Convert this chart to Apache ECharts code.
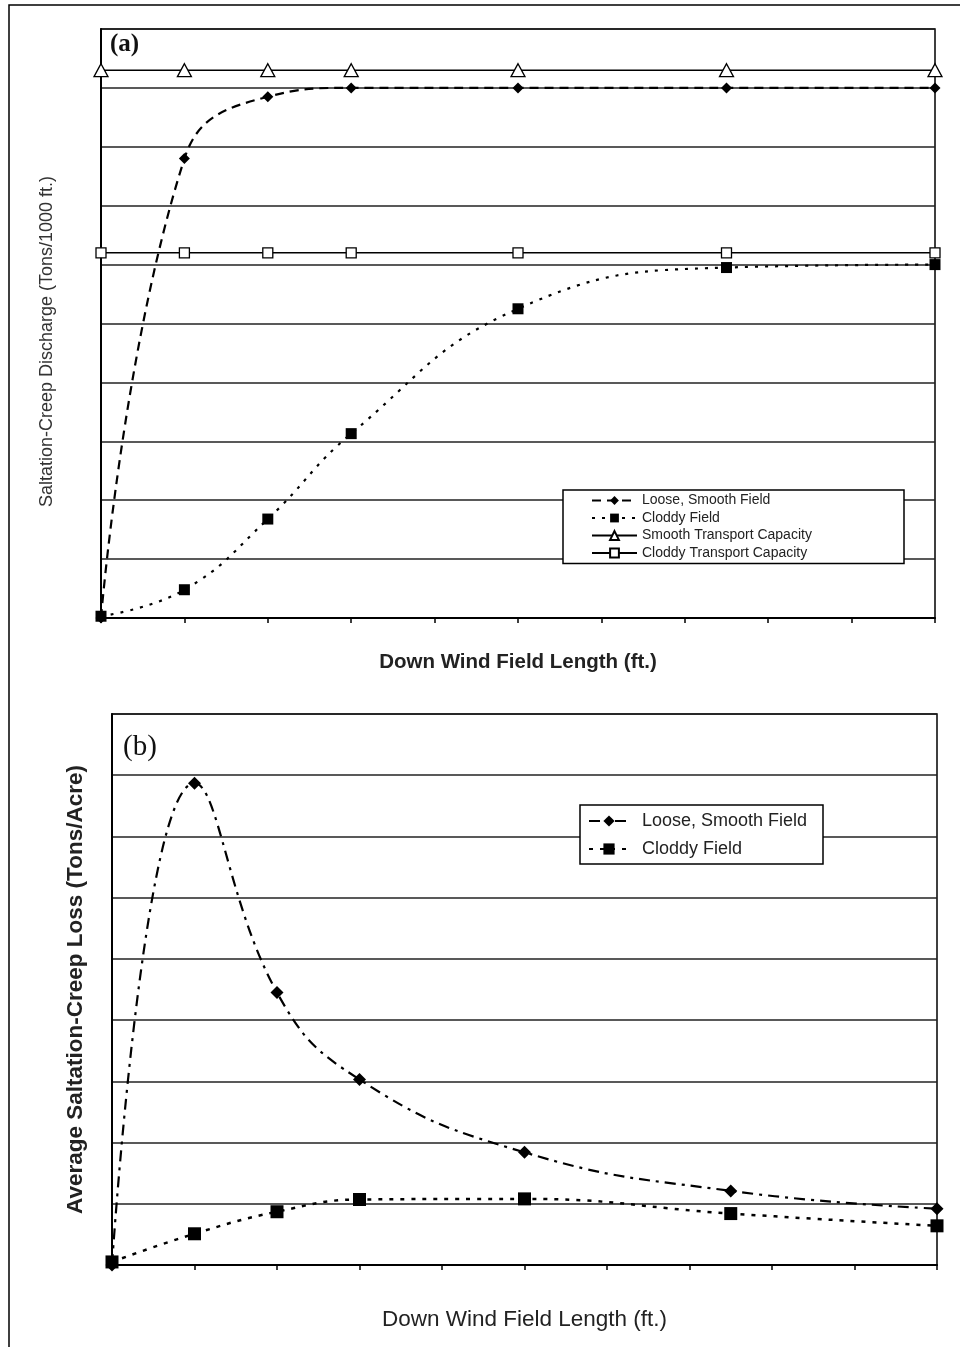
<!DOCTYPE html>
<html>
<head>
<meta charset="utf-8">
<title>Saltation-Creep Discharge and Loss</title>
<script src="https://cdn.jsdelivr.net/npm/echarts@6/dist/echarts.min.js"></script>
<style>
	html, body { margin: 0; padding: 0; background: #fff; }
	#mainCharts { width: 960px; height: 1347px; }
</style>
</head>
<body>
<div id="mainCharts"></div>
<script>
// down wind field length (ft.) - x positions of the measured points
var fieldLength = [0, 100, 200, 300, 500, 750, 1000];

// (a) saltation-creep discharge (Tons/1000 ft.)
var looseDischarge = [0, 7.8, 8.85, 9.0, 9.0, 9.0, 9.0];
var cloddyDischarge = [0.03, 0.48, 1.68, 3.13, 5.25, 5.95, 6.0];
var smoothCapacity = [9.3, 9.3, 9.3, 9.3, 9.3, 9.3, 9.3];
var cloddyCapacity = [6.2, 6.2, 6.2, 6.2, 6.2, 6.2, 6.2];

// (b) average saltation-creep loss (Tons/Acre)
var looseLoss = [0, 7.87, 4.45, 3.03, 1.84, 1.21, 0.92];
var cloddyLoss = [0.05, 0.51, 0.87, 1.07, 1.08, 0.84, 0.64];

var legendNamesA = ['Loose, Smooth Field', 'Cloddy Field', 'Smooth Transport Capacity', 'Cloddy Transport Capacity'];
var legendNamesB = ['Loose, Smooth Field ', 'Cloddy Field '];

var sansFont = 'Liberation Sans, Arial, sans-serif';
var serifFont = 'Liberation Serif, Times New Roman, serif';

//把x和y组合成点
function toPoints(values){
	var list = [];
	for(var i=0;i<fieldLength.length;i++){
		list.push([fieldLength[i], values[i]]);
	}
	return list;
}

//公共的坐标轴样式
function xAxisFor(gridIndex, gap, nameStyle){
	return {
		type: 'value',
		gridIndex: gridIndex,
		min: 0,
		max: 1000,
		interval: 100,
		name: 'Down Wind Field Length (ft.)',
		nameLocation: 'middle',
		nameGap: gap,
		nameTextStyle: nameStyle,
		axisLine: { show: true, lineStyle: { color: '#000', width: 2 } },
		axisTick: { show: true, inside: false, length: 5, lineStyle: { color: '#000', width: 1.5 } },
		axisLabel: { show: false },
		splitLine: { show: false }
	};
}

function yAxisFor(gridIndex, maxVal, name, gap, nameStyle){
	return {
		type: 'value',
		gridIndex: gridIndex,
		min: 0,
		max: maxVal,
		interval: 1,
		name: name,
		nameLocation: 'middle',
		nameGap: gap,
		nameTextStyle: nameStyle,
		axisLine: { show: true, lineStyle: { color: '#000', width: 2 } },
		axisTick: { show: false },
		axisLabel: { show: false },
		splitLine: {
			show: true,
			lineStyle: { color: '#222', width: 1.5, type: 'solid' }
		}
	};
}

var mainChart = echarts.init(document.getElementById('mainCharts'), null, { renderer: 'canvas' });

var option = {
	backgroundColor: '#fff',
	animation: false,
	title: [{
		text: '(a)',
		left: 110,
		top: 32,
		padding: 0,
		textStyle: { fontFamily: serifFont, fontSize: 25, fontWeight: 'bold', color: '#111' }
	}, {
		text: '(b)',
		left: 123,
		top: 733,
		padding: 0,
		textStyle: { fontFamily: serifFont, fontSize: 29, fontWeight: 'normal', color: '#111' }
	}],
	// 外框
	graphic: [{
		type: 'rect',
		shape: { x: 9, y: 5, width: 1000, height: 1400 },
		style: { fill: 'none', stroke: '#000', lineWidth: 1.5 },
		silent: true
	}],
	legend: [{
		data: legendNamesA,
		orient: 'vertical',
		left: 563,
		top: 490,
		padding: [3, 30, 3, 28],
		itemWidth: 45,
		itemHeight: 11,
		itemGap: 2.5,
		backgroundColor: '#fff',
		borderColor: '#000',
		borderWidth: 1.5,
		borderRadius: 0,
		textStyle: {
			fontFamily: sansFont,
			fontSize: 14,
			color: '#222',
			width: 232,
			lineHeight: 15
		}
	}, {
		data: legendNamesB,
		orient: 'vertical',
		left: 580,
		top: 805,
		padding: [6, 5, 5, 8],
		itemWidth: 40,
		itemHeight: 14,
		itemGap: 8,
		backgroundColor: '#fff',
		borderColor: '#000',
		borderWidth: 1.5,
		borderRadius: 0,
		textStyle: {
			fontFamily: sansFont,
			fontSize: 18,
			color: '#222',
			width: 176,
			lineHeight: 20,
			padding: [0, 0, 0, 8]
		}
	}],
	grid: [{
		left: 101, top: 29, width: 834, height: 589,
		show: true, borderColor: '#000', borderWidth: 1.5, backgroundColor: '#fff'
	}, {
		left: 112, top: 714, width: 825, height: 551,
		show: true, borderColor: '#000', borderWidth: 1.5, backgroundColor: '#fff'
	}],
	xAxis: [
		xAxisFor(0, 34, { fontFamily: sansFont, fontSize: 20.5, fontWeight: 'bold', color: '#222' }),
		xAxisFor(1, 43, { fontFamily: sansFont, fontSize: 22.5, fontWeight: 'normal', color: '#222' })
	],
	yAxis: [
		yAxisFor(0, 10, 'Saltation-Creep Discharge (Tons/1000 ft.)', 45,
			{ fontFamily: sansFont, fontSize: 18, color: '#333', padding: [0, 36, 0, 0] }),
		yAxisFor(1, 9, 'Average Saltation-Creep Loss (Tons/Acre)', 25,
			{ fontFamily: sansFont, fontSize: 22.5, fontWeight: 'bold', color: '#222' })
	],
	series: [{
		name: 'Smooth Transport Capacity',
		type: 'line',
		xAxisIndex: 0, yAxisIndex: 0,
		data: toPoints(smoothCapacity),
		symbol: 'triangle',
		symbolSize: [14, 13],
		lineStyle: { color: '#000', width: 1.5, type: 'solid' },
		itemStyle: { color: '#fff', borderColor: '#000', borderWidth: 1.3 },
		clip: false,
		z: 3
	}, {
		name: 'Cloddy Transport Capacity',
		type: 'line',
		xAxisIndex: 0, yAxisIndex: 0,
		data: toPoints(cloddyCapacity),
		symbol: 'rect',
		symbolSize: 10,
		lineStyle: { color: '#000', width: 1.5, type: 'solid' },
		itemStyle: { color: '#fff', borderColor: '#000', borderWidth: 1.3 },
		clip: false,
		z: 3
	}, {
		name: 'Loose, Smooth Field',
		type: 'line',
		xAxisIndex: 0, yAxisIndex: 0,
		data: toPoints(looseDischarge),
		smooth: 0.45,
		symbol: 'diamond',
		symbolSize: 11,
		lineStyle: { color: '#000', width: 2.2, type: [9, 6] },
		itemStyle: { color: '#000' },
		clip: false,
		z: 4
	}, {
		name: 'Cloddy Field',
		type: 'line',
		xAxisIndex: 0, yAxisIndex: 0,
		data: toPoints(cloddyDischarge),
		smooth: 0.45,
		symbol: 'rect',
		symbolSize: 11,
		lineStyle: { color: '#000', width: 2.2, type: [3, 7] },
		itemStyle: { color: '#000' },
		clip: false,
		z: 4
	}, {
		name: 'Loose, Smooth Field ',
		type: 'line',
		xAxisIndex: 1, yAxisIndex: 1,
		data: toPoints(looseLoss),
		smooth: 0.45,
		symbol: 'diamond',
		symbolSize: 13,
		lineStyle: { color: '#000', width: 2.2, type: [11, 6, 3, 6] },
		itemStyle: { color: '#000' },
		clip: false,
		z: 4
	}, {
		name: 'Cloddy Field ',
		type: 'line',
		xAxisIndex: 1, yAxisIndex: 1,
		data: toPoints(cloddyLoss),
		smooth: 0.45,
		symbol: 'rect',
		symbolSize: 13,
		lineStyle: { color: '#000', width: 2.5, type: [4, 7] },
		itemStyle: { color: '#000' },
		clip: false,
		z: 4
	}]
};

mainChart.setOption(option);
window.addEventListener("resize", function() {
	mainChart.resize();
});
</script>
</body>
</html>
